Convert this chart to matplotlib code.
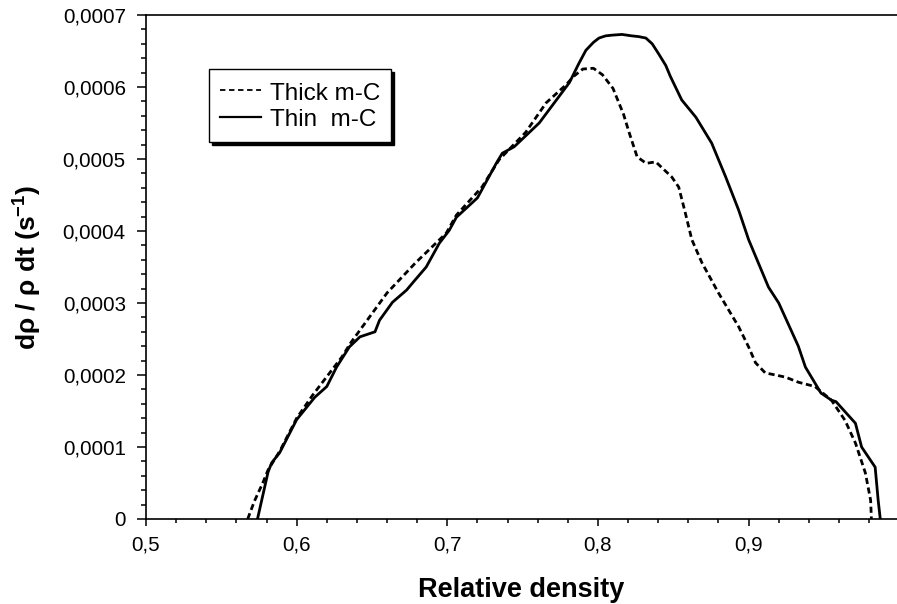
import matplotlib
matplotlib.use("Agg")
import matplotlib.pyplot as plt
from matplotlib.ticker import MultipleLocator, FuncFormatter
from matplotlib.lines import Line2D

plt.rcParams.update({"font.family": "Liberation Sans",
                     "mathtext.fontset": "custom",
                     "mathtext.rm": "Liberation Sans",
                     "mathtext.bf": "Liberation Sans:bold",
                     "mathtext.it": "Liberation Sans:italic"})

# Thin m-C (solid)
thin_x = [0.574, 0.5768, 0.581, 0.5834, 0.5887, 0.600, 0.612, 0.620, 0.6265, 0.635,
          0.642, 0.652, 0.655, 0.6636, 0.673, 0.677, 0.686, 0.6947, 0.7013, 0.706,
          0.720, 0.7325, 0.7365, 0.7444, 0.761, 0.781, 0.7874, 0.792, 0.797, 0.8007,
          0.805, 0.8093, 0.816, 0.8225, 0.827, 0.8318, 0.836, 0.840, 0.845, 0.848,
          0.8556, 0.865, 0.8755, 0.8848, 0.8934, 0.900, 0.9132, 0.920, 0.933, 0.9377,
          0.948, 0.955, 0.958, 0.9709, 0.975, 0.984, 0.986, 0.9874]
thin_y = [0, 0.26, 0.65, 0.78, 0.92, 1.38, 1.69, 1.84, 2.11, 2.39,
          2.53, 2.60, 2.76, 3.01, 3.18, 3.28, 3.50, 3.83, 4.01, 4.19,
          4.46, 4.94, 5.08, 5.17, 5.50, 6.06, 6.33, 6.51, 6.62, 6.68,
          6.71, 6.72, 6.73, 6.71, 6.70, 6.68, 6.60, 6.47, 6.30, 6.15,
          5.82, 5.58, 5.22, 4.75, 4.29, 3.88, 3.22, 3.00, 2.40, 2.11,
          1.75, 1.65, 1.63, 1.33, 1.00, 0.72, 0.26, 0]

# Thick m-C (dashed)
thick_x = [0.5675, 0.572, 0.5775, 0.581, 0.589, 0.600, 0.6106, 0.630, 0.636, 0.660,
           0.679, 0.6993, 0.706, 0.723, 0.7344, 0.752, 0.7656, 0.7788, 0.784, 0.790,
           0.797, 0.803, 0.810, 0.817, 0.8205, 0.826, 0.832, 0.8384, 0.849, 0.8536,
           0.858, 0.8623, 0.869, 0.880, 0.8934, 0.900, 0.9046, 0.911, 0.9245, 0.933,
           0.944, 0.955, 0.964, 0.971, 0.9775, 0.981, 0.9815]
thick_y = [0, 0.25, 0.50, 0.68, 0.95, 1.40, 1.72, 2.25, 2.45, 3.14,
           3.56, 3.97, 4.22, 4.61, 4.99, 5.37, 5.78, 6.03, 6.15, 6.25,
           6.26, 6.17, 5.98, 5.62, 5.38, 5.03, 4.94, 4.96, 4.75, 4.61,
           4.25, 3.88, 3.56, 3.14, 2.67, 2.39, 2.17, 2.03, 1.97, 1.90,
           1.84, 1.65, 1.37, 1.05, 0.64, 0.26, 0]

thin_y = [v * 1e-4 for v in thin_y]
thick_y = [v * 1e-4 for v in thick_y]

fig = plt.figure(figsize=(8.97, 6.04), dpi=100)
ax = fig.add_axes([146 / 897, 1 - 519 / 604, 751 / 897, 504 / 604])

ax.plot(thick_x, thick_y, color="black", lw=2.0, ls=(0, (2.2, 1.3)))
ax.plot(thin_x, thin_y, color="black", lw=2.0)

ax.set_xlim(0.5, 0.9985)
ax.set_ylim(0, 0.0007)
ax.xaxis.set_major_locator(MultipleLocator(0.1))
ax.xaxis.set_minor_locator(MultipleLocator(0.02))
ax.yaxis.set_major_locator(MultipleLocator(0.0001))
ax.yaxis.set_minor_locator(MultipleLocator(0.00002))
ax.xaxis.set_major_formatter(FuncFormatter(lambda v, p: f"{v:.1f}".replace(".", ",")))
ax.yaxis.set_major_formatter(FuncFormatter(
    lambda v, p: "0" if abs(v) < 1e-12 else f"{v:.4f}".replace(".", ",")))

ax.tick_params(axis="both", which="both", direction="out", labelsize=14.8,
               top=False, right=False, width=1.1)
ax.tick_params(axis="y", which="major", length=6.5, pad=8)
ax.tick_params(axis="y", which="minor", length=3.6)
ax.tick_params(axis="x", which="major", length=5, pad=7)
ax.tick_params(axis="x", which="minor", length=3.2)

for s in ("left", "bottom", "top"):
    ax.spines[s].set_linewidth(1.2)
ax.spines["right"].set_visible(False)

ax.set_xlabel("Relative density", fontsize=19.5, fontweight="bold", va="baseline")
ax.xaxis.set_label_coords(0.5, -78 / 504)
ax.set_ylabel(r"dρ / ρ dt (s$^{\mathbf{-1}}$)", fontsize=19, fontweight="bold",
              va="center")
ax.yaxis.set_label_coords(-118 / 751, 0.5)

handles = [Line2D([], [], color="black", lw=1.3, ls=(0, (3, 2))),
           Line2D([], [], color="black", lw=1.6)]
leg = ax.legend(handles, ["Thick m-C", "Thin  m-C"], loc="upper left",
                bbox_to_anchor=((209 - 146) / 751, 1 - (69 - 15) / 504),
                borderaxespad=0, fontsize=17.5, fancybox=False,
                edgecolor="black", framealpha=1, borderpad=0.45,
                handlelength=1.7, handletextpad=0.35, labelspacing=0.1,
                handleheight=1.05, shadow={"color": "black", "alpha": 1})
leg.get_frame().set_linewidth(1.0)

plt.savefig("out.png", dpi=100)
plt.close()
